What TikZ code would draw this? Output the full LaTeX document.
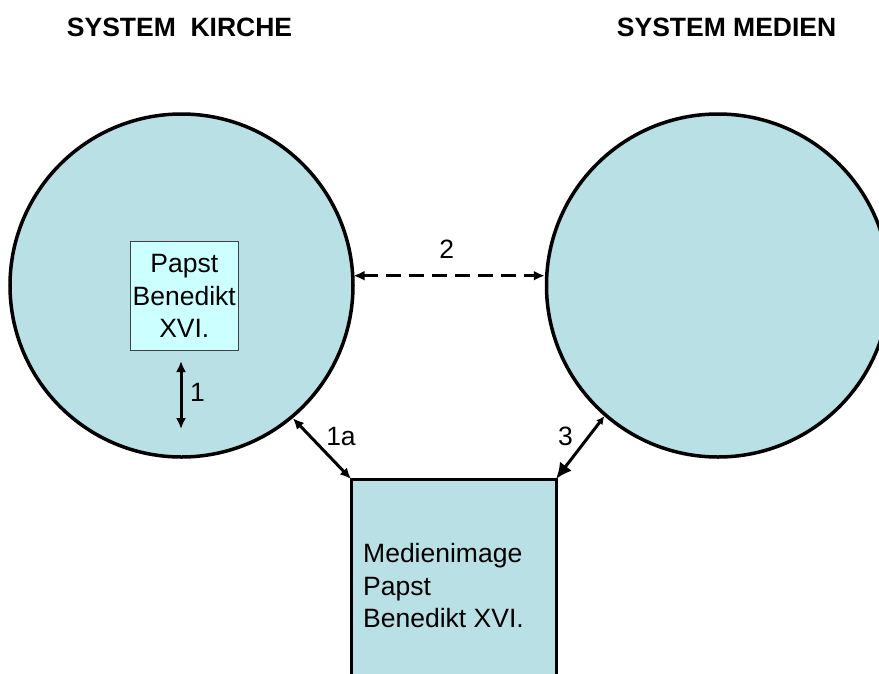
\documentclass[tikz,border=0pt]{standalone}
\usepackage{fontspec}
\setmainfont{Liberation Sans}
\usetikzlibrary{arrows.meta}
\definecolor{sysfill}{RGB}{185,224,228}
\definecolor{papstfill}{RGB}{204,255,255}
\begin{document}
\begin{tikzpicture}[x=1pt,y=-1pt,
  sys/.style={circle, draw=black, line width=3.5pt, fill=sysfill, minimum size=343pt, inner sep=0pt},
  lbl/.style={font=\fontsize{26.5}{32.5}\selectfont, inner sep=0pt},
  ttl/.style={font=\bfseries\fontsize{26.5}{32.5}\selectfont, inner sep=0pt, anchor=base west},
  conn/.style={line width=3pt, {Latex[length=11pt,width=10pt]}-{Latex[length=11pt,width=10pt]}},
]
\useasboundingbox (0,0) rectangle (879,673);
\clip (0,0) rectangle (879,673);
% titles
\node[ttl] (tkirche) at (66.7,36.7) {SYSTEM\ \ KIRCHE};
\node[ttl] (tmedien) at (616.7,36.7) {SYSTEM MEDIEN};
% systems
\node[sys] (kirche) at (181.5,285.5) {};
\node[sys] (medien) at (718,285.5) {};
% papst box
\node[lbl, draw=black!75, line width=0.8pt, fill=papstfill, minimum width=108.7pt, minimum height=108.3pt, align=center] (papst) at (184.3,296) {Papst\\Benedikt\\XVI.};
% media image box
\node[draw=black, line width=3pt, fill=sysfill, minimum width=205pt, minimum height=240pt, anchor=north west, inner sep=0pt, outer sep=0pt] (image) at (351,479) {};
\node[lbl, align=left, anchor=west] (imagetext) at (363,585.7) {Medienimage\\Papst\\Benedikt XVI.};
% arrow 1
\coordinate (p1top) at (181,361);
\coordinate (p1bot) at (181,429);
\draw[conn] (p1top) -- (p1bot);
\node[lbl] (l1) at (197.5,392) {1};
% arrow 2 (dashed)
\coordinate (d2l) at (353.5,275.7);
\draw[conn, dash pattern=on 15pt off 8pt] (d2l) -- (d2l -| medien.west);
\node[lbl] (l2) at (446.7,249) {2};
% arrow 1a
\draw[conn] (kirche.-50.7) -- (image.north west);
\node[lbl] (l1a) at (341,437) {1a};
% arrow 3
\draw[line width=3pt, {Latex[length=8pt,width=8pt]}-{Latex[length=16pt,width=15pt]}] (medien.-131) -- (image.north east);
\node[lbl] (l3) at (565.5,436) {3};
\end{tikzpicture}
\end{document}
